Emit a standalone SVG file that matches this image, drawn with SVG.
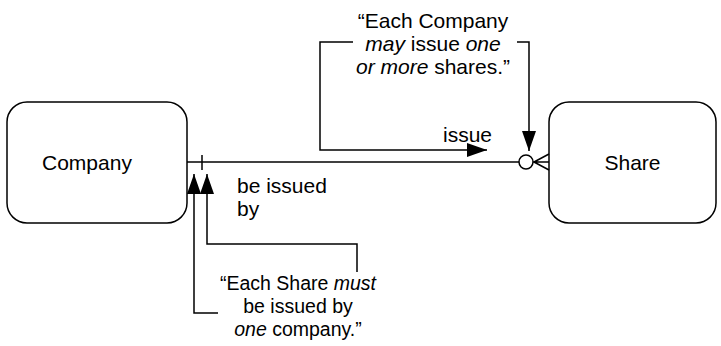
<svg xmlns="http://www.w3.org/2000/svg" width="721" height="346" viewBox="0 0 721 346">
  <style>
    text { font-family: "Liberation Sans", Arial, sans-serif; font-size: 21px; fill: #000; }
    .c { text-anchor: middle; }
    .i { font-style: italic; }
    .sm { font-size: 19.5px; }
    .box { fill: #fff; stroke: #000; stroke-width: 1.5; }
    .ln { fill: none; stroke: #000; stroke-width: 1.5; }
  </style>
  <defs>
    <marker id="arrow" viewBox="0 0 20 14" refX="20" refY="7" markerWidth="20" markerHeight="14" markerUnits="userSpaceOnUse" orient="auto">
      <path d="M0,0 L20,7 L0,14 Z" fill="#000"/>
    </marker>
  </defs>

  <g id="company">
    <rect class="box" x="7" y="102" width="180" height="121" rx="20" ry="20"/>
    <text x="42" y="170">Company</text>
  </g>

  <g id="share">
    <rect class="box" x="549" y="102" width="167" height="121" rx="20" ry="20"/>
    <text x="632.5" y="170" class="c">Share</text>
  </g>

  <g id="connectors">
    <!-- relationship line with cardinality marks -->
    <line class="ln" x1="187" y1="162" x2="519" y2="162"/>
    <line class="ln" x1="202" y1="155" x2="202" y2="170"/>
    <circle class="ln" cx="526" cy="162" r="7" fill="#fff"/>
    <path class="ln" d="M533,162 L549,162 M534,162 L549,154 M534,162 L549,170"/>

    <!-- annotation leaders -->
    <path class="ln" d="M353,42 L320,42 L320,150 L487,150" marker-end="url(#arrow)"/>
    <path class="ln" d="M517,42 L529,42 L529,151" marker-end="url(#arrow)"/>
    <path class="ln" d="M218,313 L194,313 L194,174" marker-end="url(#arrow)"/>
    <path class="ln" d="M357,272 L357,244 L207,244 L207,174" marker-end="url(#arrow)"/>
  </g>

  <g id="labels">
    <text x="443" y="142">issue</text>
    <text x="237" y="193">be issued</text>
    <text x="237" y="216">by</text>

    <text x="433" y="28" class="c">“Each Company</text>
    <text x="433" y="51" class="c"><tspan class="i">may</tspan> issue <tspan class="i">one</tspan></text>
    <text x="433" y="74" class="c"><tspan class="i">or more</tspan> shares.”</text>

    <text x="298" y="290" class="c sm">“Each Share <tspan class="i">must</tspan></text>
    <text x="298" y="313" class="c sm">be issued by</text>
    <text x="298" y="336" class="c sm"><tspan class="i">one</tspan> company.”</text>
  </g>
</svg>
